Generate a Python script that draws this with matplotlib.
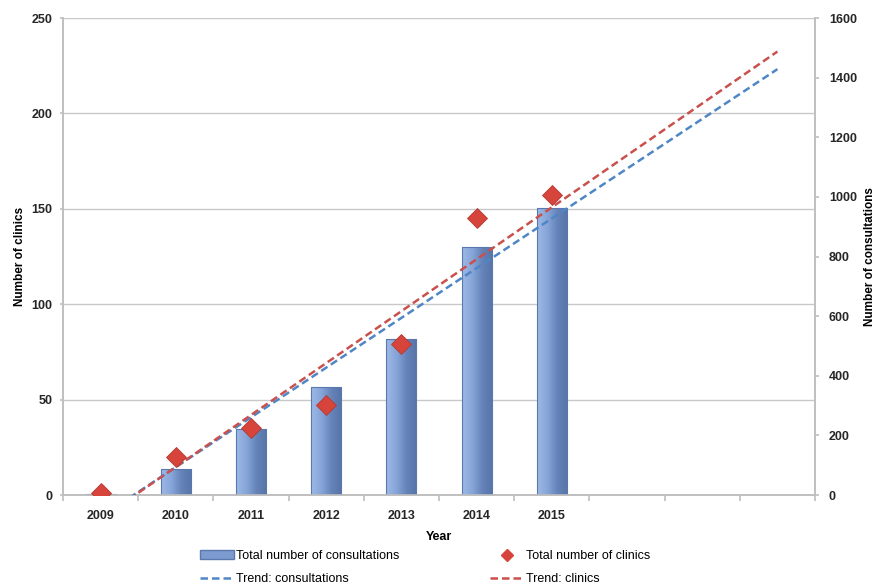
import numpy as np
import matplotlib
matplotlib.use("Agg")
import matplotlib.pyplot as plt
from matplotlib.lines import Line2D
from matplotlib.patches import Patch
from matplotlib.colors import LinearSegmentedColormap

plt.rcParams['font.family'] = ['Liberation Sans', 'DejaVu Sans']

years = ["2009", "2010", "2011", "2012", "2013", "2014", "2015"]
n_slots = 10  # category axis includes 3 empty forecast slots
consultations = [3, 87, 221, 362, 523, 832, 963]
clinics = [1, 20, 35, 47, 79, 145, 157]
forecast_periods = 3

fig = plt.figure(figsize=(8.86, 5.85), dpi=100)
ax = fig.add_axes([0.0711, 0.1538, 0.8488, 0.8154])
ax2 = ax.twinx()

x = np.arange(len(years))
gray = "#bfbfbf"

ax.set_xlim(-0.5, n_slots - 0.5)
ax.set_ylim(0, 250)
ax2.set_ylim(0, 1600)

ax.set_yticks(np.arange(0, 251, 50))
ax.yaxis.grid(True, color="#c8c8c8", linewidth=1.0)
ax.set_axisbelow(True)

# bars on right axis with a horizontal gradient fill
bar_face = "#7d9bcf"
bar_edge = "#5a78ad"
cmap = LinearSegmentedColormap.from_list("bar", ["#9db9e6", "#86a5d8", "#6583b8", "#5674a8"])
grad = np.linspace(0, 1, 64).reshape(1, -1)
bars = ax2.bar(x, consultations, width=0.4, color="none", edgecolor=bar_edge, linewidth=0.8, zorder=2)
for b in bars:
    x0, y0 = b.get_x(), b.get_y()
    w, h = b.get_width(), b.get_height()
    im = ax2.imshow(grad, cmap=cmap, aspect='auto', extent=[x0, x0 + w, y0, y0 + h],
                    zorder=1.9, interpolation='bicubic')
    im.set_clip_path(b)
ax2.set_xlim(-0.5, n_slots - 0.5)
ax2.set_ylim(0, 1600)

# trendlines (linear, forecast forward)
xt = np.array([0, len(years) - 1 + forecast_periods], dtype=float)
pc = np.polyfit(x, consultations, 1)
pk = np.polyfit(x, clinics, 1)
dash = (0, (3, 1.6))
ax2.plot(xt, np.polyval(pc, xt), linestyle=dash, color="#4f86c6", linewidth=1.8, zorder=3)
ax2.plot(xt, np.polyval(pk, xt), linestyle=dash, color="#c9504c", linewidth=1.8, zorder=3,
         transform=ax.transData)

# diamonds (left axis values, drawn above bars)
ax2.plot(x, clinics, linestyle="none", marker="D", markersize=10, color="#d6443c",
         markeredgecolor="#b23a33", markeredgewidth=0.6, zorder=4, transform=ax.transData)

for a in (ax, ax2):
    a.spines['top'].set_visible(False)
    for s in ('left', 'right', 'bottom'):
        a.spines[s].set_color(gray)
        a.spines[s].set_linewidth(1.2)

ax.set_xticks(x)
ax.set_xticklabels(years, fontsize=9, fontweight='bold', color="#262626")
ax.tick_params(axis='x', which='major', length=0, pad=11)
ax.set_xticks(np.arange(-0.5, n_slots, 1.0), minor=True)
ax.tick_params(axis='x', which='minor', length=4, color=gray, width=1.2, direction='out')

ax.tick_params(axis='y', labelsize=9, length=2.5, color=gray, width=1.2, pad=5, labelcolor="#262626")
for t in ax.get_yticklabels():
    t.set_fontweight('bold')
ax2.set_yticks(np.arange(0, 1601, 200))
ax2.tick_params(axis='y', labelsize=9, length=3, color=gray, width=1.2, pad=7, labelcolor="#262626")
for t in ax2.get_yticklabels():
    t.set_fontweight('bold')

ax.set_ylabel("Number of clinics", fontsize=8.5, fontweight='bold', labelpad=4)
ax2.set_ylabel("Number of consultations", fontsize=8.5, fontweight='bold', labelpad=5)
ax.set_xlabel("Year", fontsize=9, fontweight='bold', labelpad=6)

handles = [
    Patch(facecolor=bar_face, edgecolor=bar_edge),
    Line2D([], [], linestyle=dash, color="#4f86c6", linewidth=1.8),
    Line2D([], [], linestyle="none", marker="D", markersize=6, color="#d6443c"),
    Line2D([], [], linestyle=dash, color="#c9504c", linewidth=1.8),
]
labels = ["Total number of consultations", "Trend: consultations",
          "Total number of clinics", "Trend: clinics"]
fig.legend(handles, labels, ncol=2, loc='upper left', bbox_to_anchor=(0.226, 0.060),
           frameon=False, fontsize=9, columnspacing=7.3, handlelength=2.7,
           handletextpad=0.15, labelspacing=0.92, borderaxespad=0, borderpad=0)

fig.savefig("out.png", dpi=100)
